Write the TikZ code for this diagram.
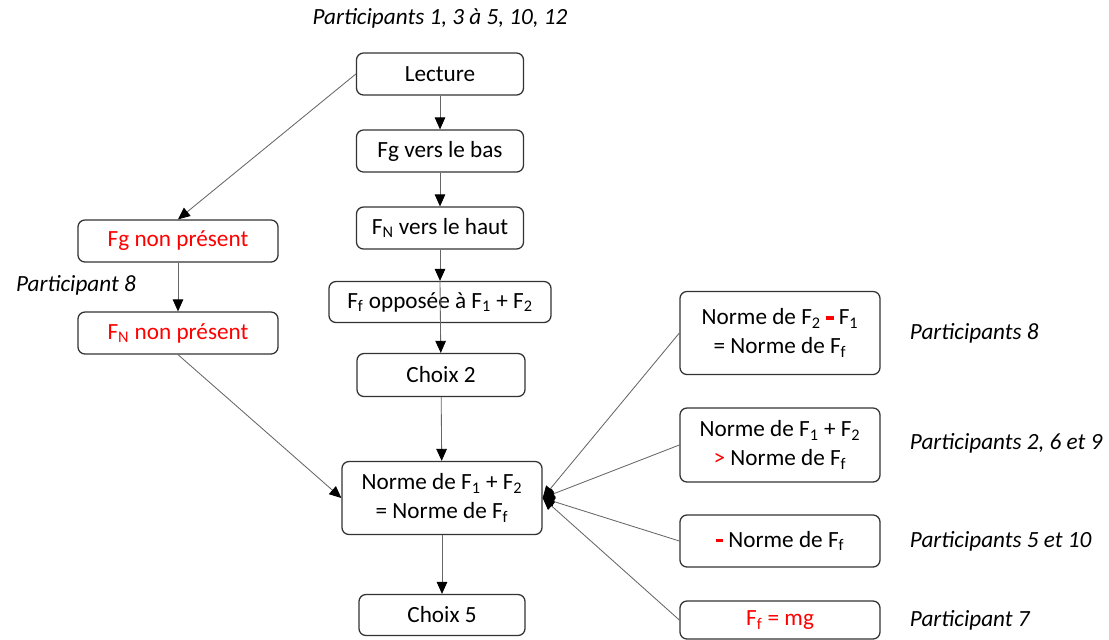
\documentclass[tikz,border=0pt]{standalone}
\usepackage{fontspec}
\setmainfont{Carlito}
\usetikzlibrary{arrows.meta}
\newcommand{\indice}[1]{\textsubscript{#1}}
\newcommand{\moins}{{\color{red}\rule[0.22em]{0.32em}{0.15em}}}
\tikzstyle{etape} = [draw=black!80, line width=0.9pt, rounded corners=5pt, fill=white, align=center, inner sep=0pt]
\tikzstyle{erreur} = [etape, text=red]
\tikzstyle{groupe} = [font=\fontsize{16.5}{20.5}\selectfont\itshape]
\tikzstyle{fleche} = [draw=black!60, line width=0.6pt, -{Triangle[length=8.5pt,width=7.5pt,color=black]}]

\begin{document}
\begin{tikzpicture}[x=0.025cm, y=-0.025cm, font=\fontsize{16.5}{20.5}\selectfont]
\useasboundingbox (0,0) rectangle (1109,639);
%\draw[help lines] (0,0) grid[step=100] (1109,639);
% central path
\node[groupe] (titre) at (440,18) {Participants 1, 3 à 5, 10, 12};
\node[etape, minimum width=4.175cm, minimum height=1.05cm] (lecture) at (440,74) {Lecture};
\node[etape, minimum width=4.175cm, minimum height=1.05cm] (fgbas) at (440,151) {Fg vers le bas};
\node[etape, minimum width=4.175cm, minimum height=1.05cm] (fnhaut) at (440,228) {F\indice{N} vers le haut};
\node[etape, minimum width=5.55cm, minimum height=1.025cm] (ffopp) at (440,302) {F\indice{f} opposée à F\indice{1} + F\indice{2}};
\node[etape, minimum width=4.2cm, minimum height=1.075cm] (choix2) at (441,375) {Choix 2};
\node[etape, minimum width=5cm, minimum height=1.825cm] (norme) at (442,498) {Norme de F\indice{1} + F\indice{2}\\= Norme de F\indice{f}};
\node[etape, minimum width=4.15cm, minimum height=1.025cm] (choix5) at (442,615) {Choix 5};

% left branch
\node[erreur, minimum width=5cm, minimum height=1.05cm] (fgnon) at (178,241) {Fg non présent};
\node[groupe] (p8) at (76,285) {Participant 8};
\node[erreur, minimum width=5cm, minimum height=1.05cm] (fnnon) at (178,333) {F\indice{N} non présent};

% right branch
\node[etape, minimum width=5cm, minimum height=2.075cm] (diff) at (780,333) {Norme de F\indice{2} \moins{} F\indice{1}\\= Norme de F\indice{f}};
\node[etape, minimum width=5cm, minimum height=1.85cm] (sup) at (780,445) {Norme de F\indice{1} + F\indice{2}\\{\color{red}>} Norme de F\indice{f}};
\node[etape, minimum width=5cm, minimum height=1.3cm] (neg) at (780,541) {\moins{} Norme de F\indice{f}};
\node[erreur, minimum width=5cm, minimum height=0.95cm] (mg) at (780,620) {F\indice{f} = mg};

\node[groupe, anchor=west] (pdiff) at (905,333) {Participants 8};
\node[groupe, anchor=west] (psup) at (905,443) {Participants 2, 6 et 9};
\node[groupe, anchor=west] (pneg) at (905,541) {Participants 5 et 10};
\node[groupe, anchor=west] (pmg) at (905,620) {Participant 7};

\draw[fleche] (lecture) -- (fgbas);
\draw[fleche] (fgbas) -- (fnhaut);
\draw[fleche] (fnhaut) -- (ffopp);
\draw[fleche] (ffopp.north) -- (choix2);
\draw[fleche] (choix2) -- (norme);
\draw[fleche] (norme) -- (choix5);

\draw[fleche] (lecture.west) -- (fgnon.north);
\draw[fleche] (fgnon) -- (fnnon);
\draw[fleche] (fnnon.south) -- (norme.west);

\draw[fleche] (diff.west) -- (norme.east);
\draw[fleche] (sup.west) -- (norme.east);
\draw[fleche] (neg.west) -- (norme.east);
\draw[fleche] (mg.west) -- (norme.east);
\end{tikzpicture}
\end{document}
